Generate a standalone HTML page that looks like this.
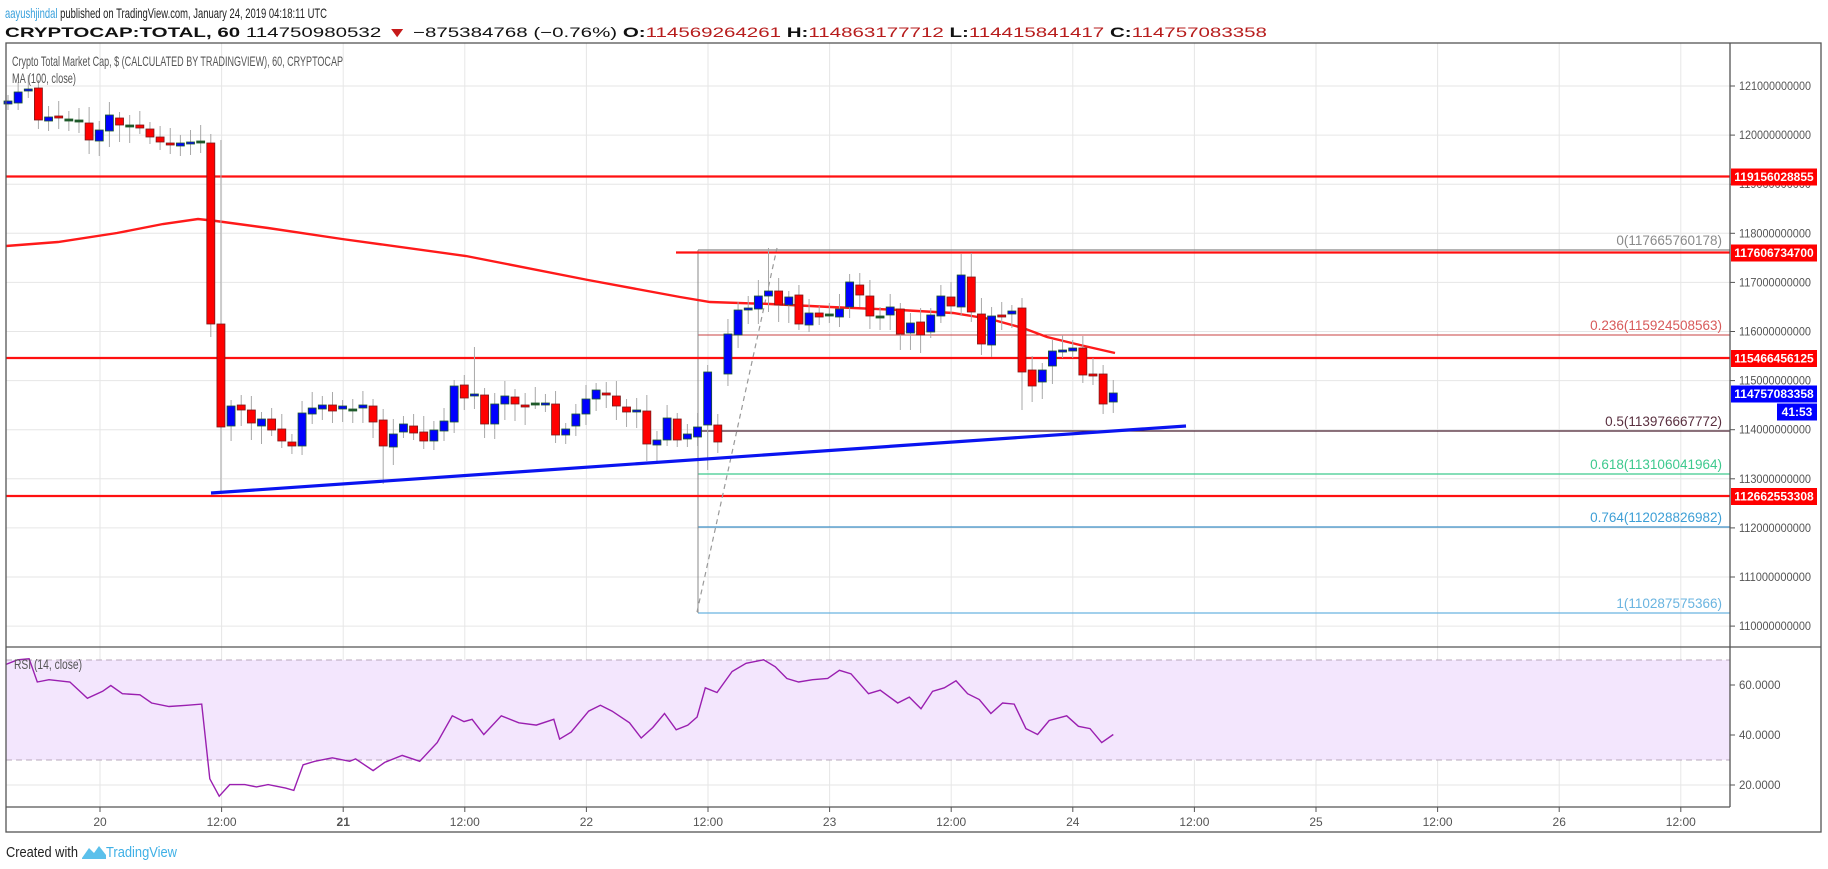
<!DOCTYPE html>
<html><head><meta charset="utf-8"><style>
html,body{margin:0;padding:0;background:#fff;}
svg{display:block;font-family:"Liberation Sans",sans-serif;}
</style></head><body>
<svg id="s" width="1828" height="869" viewBox="0 0 1828 869" xmlns="http://www.w3.org/2000/svg">
<rect width="1828" height="869" fill="#fff"/>
<g id="grid"></g>
<rect x="6" y="660" width="1724" height="100" fill="#f3e6fd"/>
<line x1="6" y1="660" x2="1730" y2="660" stroke="#b8a8bc" stroke-dasharray="6,4"/>
<line x1="6" y1="760" x2="1730" y2="760" stroke="#b8a8bc" stroke-dasharray="6,4"/>
<g id="lines"></g>
<g id="candles"></g>
<g id="over"></g>
<rect x="6" y="43" width="1815" height="789" fill="none" stroke="#555" stroke-width="1.3"/>
<line x1="1730" y1="43" x2="1730" y2="807" stroke="#555" stroke-width="1.3"/>
<line x1="6" y1="807" x2="1730" y2="807" stroke="#555" stroke-width="1.3"/>
<line x1="6" y1="647" x2="1821" y2="647" stroke="#555" stroke-width="1.3"/>
<g id="axis"></g>
<text x="5" y="18" font-size="14" textLength="322" lengthAdjust="spacingAndGlyphs"><tspan fill="#3aa1dc">aayushjindal</tspan><tspan fill="#222"> published on TradingView.com, January 24, 2019 04:18:11 UTC</tspan></text>
<text x="5" y="37" font-size="14" textLength="1262" lengthAdjust="spacingAndGlyphs" fill="#111"><tspan font-weight="bold">CRYPTOCAP:TOTAL, 60</tspan><tspan> 114750980532 </tspan><tspan fill="#c61a1a">▼</tspan><tspan> −875384768 (−0.76%) </tspan><tspan font-weight="bold">O:</tspan><tspan fill="#b71c1c">114569264261</tspan><tspan font-weight="bold"> H:</tspan><tspan fill="#b71c1c">114863177712</tspan><tspan font-weight="bold"> L:</tspan><tspan fill="#b71c1c">114415841417</tspan><tspan font-weight="bold"> C:</tspan><tspan fill="#b71c1c">114757083358</tspan></text>
<text x="12" y="66" font-size="14" fill="#555" textLength="331" lengthAdjust="spacingAndGlyphs">Crypto Total Market Cap, $ (CALCULATED BY TRADINGVIEW), 60, CRYPTOCAP</text>
<text x="12" y="83" font-size="14" fill="#555" textLength="64" lengthAdjust="spacingAndGlyphs">MA (100, close)</text>
<text x="14" y="669" font-size="14" fill="#555" textLength="68" lengthAdjust="spacingAndGlyphs">RSI (14, close)</text>
<text x="6" y="857" font-size="15" fill="#222" textLength="72" lengthAdjust="spacingAndGlyphs">Created with</text>
<path d="M82 858 L89 848 L94 853 L99 846 L106 855 L106 859 L82 859 Z" fill="#5bc0eb"/>
<text x="106" y="857" font-size="15" fill="#3fb0e6" textLength="71" lengthAdjust="spacingAndGlyphs">TradingView</text>
</svg>
<script>
var NS="http://www.w3.org/2000/svg";
function el(p,t,a,txt){var e=document.createElementNS(NS,t);for(var k in a)e.setAttribute(k,a[k]);if(txt!==undefined)e.textContent=txt;document.getElementById(p).appendChild(e);return e;}
// grid
for(var n=0;n<14;n++){var x=100+n*121.6;el('grid','line',{x1:x,y1:43,x2:x,y2:807,stroke:'#e6e6e6'});
 el('axis','line',{x1:x,y1:807,x2:x,y2:812,stroke:'#555'});
 var lab=['20','12:00','21','12:00','22','12:00','23','12:00','24','12:00','25','12:00','26','12:00'][n];
 el('axis','text',{x:x,y:826,'font-size':12,fill:'#555','text-anchor':'middle','font-weight':(lab=='21'?'bold':'normal')},lab);}
for(var k=0;k<12;k++){var y=86+k*49.1;el('grid','line',{x1:6,y1:y,x2:1730,y2:y,stroke:'#e6e6e6'});
 el('axis','line',{x1:1730,y1:y,x2:1735,y2:y,stroke:'#555'});
 el('axis','text',{x:1739,y:y+4,'font-size':11.5,fill:'#555',textLength:72,lengthAdjust:'spacingAndGlyphs'},String(121-k)+'000000000');}
[[685,'60.0000'],[735,'40.0000'],[785,'20.0000']].forEach(function(r){el('grid','line',{x1:6,y1:r[0],x2:1730,y2:r[0],stroke:r[0]==785?'#e6e6e6':'#e0d0ea'});
 el('axis','line',{x1:1730,y1:r[0],x2:1735,y2:r[0],stroke:'#555'});
 el('axis','text',{x:1739,y:r[0]+4,'font-size':11.5,fill:'#555'},r[1]);});
// horizontal levels
function hl(x1,y,c,w){el('lines','line',{x1:x1,y1:y,x2:1730,y2:y,stroke:c,'stroke-width':w});}
hl(698,250,'#888',1.2);
hl(698,335,'#c94040',1);
hl(698,431,'#4a2030',1.2);
hl(698,474,'#3dc98e',1.2);
hl(698,527,'#3d8fc6',1.2);
hl(698,613,'#6ab4e0',1.2);
el('lines','line',{x1:698,y1:250,x2:698,y2:613,stroke:'#888','stroke-width':1});
hl(6,176.5,'#ff1010',2.2);hl(676,252.5,'#ff1010',2.2);hl(6,358,'#ff1010',2.2);hl(6,496,'#ff1010',2.2);
// fib labels
[[245,'0(117665760178)','#8a8a8a'],[330,'0.236(115924508563)','#d85a5a'],[426,'0.5(113976667772)','#5a3040'],[469,'0.618(113106041964)','#3dc98e'],[522,'0.764(112028826982)','#3d9fd6'],[608,'1(110287575366)','#6ab4e0']].forEach(function(r){
 el('over','text',{x:1722,y:r[0],'font-size':13.5,fill:r[2],'text-anchor':'end'},r[1]);});
// dashed fib trend
el('lines','line',{x1:697,y1:612,x2:777,y2:248,stroke:'#999','stroke-width':1.2,'stroke-dasharray':'5,4'});
// MA
var ma=[[6,246],[58,242],[117,233],[163,224],[198,219],[216,221],[268,228],[342,239],[466,256],[588,280],[680,297],[710,302],[770,304],[830,307],[900,310],[953,313],[990,319],[1023,328],[1047,337],[1080,345],[1115,353]];
el('lines','polyline',{points:ma.map(function(p){return p.join(',')}).join(' '),fill:'none',stroke:'#ff1a1a','stroke-width':2.4});
// candles [top,bottom,color]
var C=[[101,104,'b'],[92,103,'b'],[89,90,'b'],[88,120,'r'],[117,121,'b'],[116,118,'r'],[119,119,'d'],[120,120,'d'],[123,140,'r'],[130,141,'b'],[115,131,'b'],[118,125,'r'],[125,125,'d'],[125,128,'r'],[129,137,'r'],[137,142,'r'],[143,145,'r'],[143,146,'b'],[142,144,'b'],[141,141,'d'],[143,324,'r'],[324,427,'r'],
[406,426,'b'],[405,410,'r'],[410,423,'r'],[419,426,'b'],[419,430,'r'],[429,441,'r'],[442,446,'r'],[413,446,'b'],[408,414,'b'],[405,409,'b'],[405,411,'r'],[406,409,'b'],[409,409,'d'],[405,408,'b'],[406,422,'r'],[420,446,'r'],[434,447,'b'],[424,432,'b'],[426,433,'r'],[432,441,'r'],[430,441,'b'],[421,431,'b'],[386,422,'b'],[385,398,'r'],[394,396,'b'],[395,424,'r'],[404,424,'b'],[396,404,'b'],[397,404,'r'],[405,407,'r'],[403,403,'d'],[403,405,'b'],[404,435,'r'],[429,435,'b'],[414,426,'b'],[399,414,'b'],[390,399,'b'],[393,395,'r'],[396,406,'r'],[407,412,'r'],[410,412,'b'],[411,444,'r'],[440,445,'b'],[418,440,'b'],[419,440,'r'],
[434,439,'b'],[427,437,'b'],[372,425,'b'],[425,442,'r'],[334,374,'b'],[310,335,'b'],[308,310,'b'],[296,309,'b'],[291,296,'b'],[291,305,'r'],[297,305,'b'],[295,324,'r'],[313,325,'b'],[313,317,'r'],[314,314,'d'],[309,317,'b'],[282,307,'b'],[285,295,'r'],[296,316,'r'],[316,316,'d'],[307,315,'b'],[309,334,'r'],[323,333,'b'],[322,335,'r'],[315,332,'b'],[296,316,'b'],[297,306,'r'],[275,307,'b'],[277,312,'r'],[314,344,'r'],[316,345,'b'],[315,317,'r'],[311,314,'b'],[308,372,'r'],[370,386,'r'],[370,382,'b'],[351,366,'b'],[350,352,'b'],[348,351,'b'],[348,375,'r'],[374,376,'r'],[374,404,'r'],[393,402,'b']];
var special={21:[140,493],46:[347,null],37:[null,484],75:[248,null],94:[254,null],95:[253,null],100:[null,410],69:[null,470],3:[80,null]};
for(var i=0;i<C.length;i++){var c=C[i],x=8+i*10.14;
 var up=6+((i*37)%11),dn=6+((i*53)%13);
 var hi=c[0]-up,lo=c[1]+dn; if(special[i]){if(special[i][0])hi=special[i][0];if(special[i][1])lo=special[i][1];}
 el('candles','line',{x1:x,y1:hi,x2:x,y2:lo,stroke:'#a8a8a8','stroke-width':1});
 var fill=c[2]=='r'?'#ff0000':'#0000ff',st=c[2]=='r'?'#7a1a1a':'#1f5a2a';
 if(c[2]=='d'){fill='#1f5a2a';}
 var h=Math.max(c[1]-c[0],2);
 el('candles','rect',{x:x-4,y:c[0],width:8,height:h,fill:fill,stroke:st,'stroke-width':0.8});}
// trend line
el('over','line',{x1:211,y1:493,x2:1186,y2:426,stroke:'#0a14f0','stroke-width':3.2});
// RSI
var R=[[5,570],[15,566],[25,565],[32,585],[42,583],[60,585],[75,599],[88,593],[95,588],[105,595],[120,596],[130,603],[145,606],[160,605],[173,604],[180,668],[188,683],[197,673],[210,673],[220,675],[230,673],[245,676],[252,678],[260,656],[270,653],[285,650],[300,653],[305,651],[320,661],[330,654],[345,648],[360,653],[375,637],[388,614],[398,619],[405,617],[415,630],[430,614],[445,620],[460,622],[475,617],[480,634],[490,628],[505,610],[515,605],[525,610],[540,620],[550,633],[560,624],[570,612],[580,626],[590,622],[598,615],[605,590],[615,594],[628,576],[640,569],[655,566],[665,572],[675,582],[685,585],[697,583],[710,582],[720,575],[730,578],[745,595],[755,592],[770,603],[780,598],[790,608],[800,593],[810,590],[820,584],[830,595],[840,600],[850,612],[860,603],[870,604],[880,625],[890,630],[900,618],[915,614],[925,623],[935,625],[945,637],[955,630]];
el('over','polyline',{points:R.map(function(p){return (p[0]*1.1658).toFixed(1)+','+(p[1]*1.1658).toFixed(1)}).join(' '),fill:'none',stroke:'#9a1fb0','stroke-width':1.4});
// axis boxes
function box(y,txt,col,x,w){el('axis','rect',{x:x||1731,y:y-8,width:w||86,height:17,fill:col});
 el('axis','text',{x:(x||1731)+(w?w/2:43),y:y+4.5,'font-size':12,'font-weight':'bold',fill:'#fff','text-anchor':'middle'},txt);}
box(176.5,'119156028855','#ff0000');box(252.5,'117606734700','#ff0000');box(358,'115466456125','#ff0000');box(496,'112662553308','#ff0000');
box(393.5,'114757083358','#0000ff');box(411.5,'41:53','#0000ff',1777,40);
</script>
</body></html>
